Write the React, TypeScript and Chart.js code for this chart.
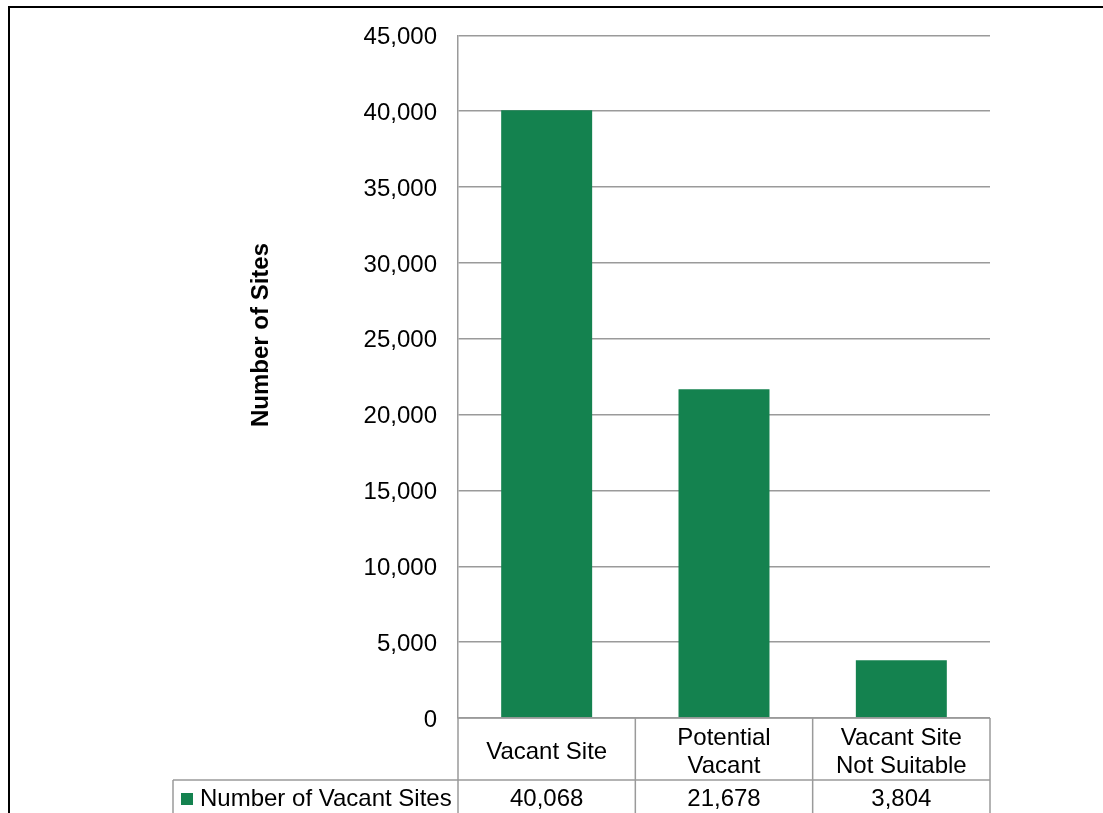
import React, { useEffect, useRef } from "react";
import { Chart, registerables } from "chart.js";

Chart.register(...registerables);

const categories: string[][] = [["Vacant Site"], ["Potential", "Vacant"], ["Vacant Site", "Not Suitable"]];
const values: number[] = [40068, 21678, 3804];
const valueLabels: string[] = ["40,068", "21,678", "3,804"];
const seriesName = "Number of Vacant Sites";
const yTicks: number[] = [0, 5000, 10000, 15000, 20000, 25000, 30000, 35000, 40000, 45000];
const yTitle = "Number of Sites";

const FAMILY = '"Liberation Sans", Arial, Helvetica, sans-serif';
const FONT_SIZE = 24;
const GRID = "#9a9a9a";
const GREEN = "#14824f";

const decorPlugin = {
  id: "decor",
  afterDraw(chart: any) {
    const ctx = chart.ctx as CanvasRenderingContext2D;
    const area = chart.chartArea;
    const x = chart.scales.x;
    const n = categories.length;
    const step = (area.right - area.left) / n;
    const bounds: number[] = [];
    for (let i = 0; i <= n; i++) bounds.push(x.getPixelForValue(0) - step / 2 + i * step);
    const top = area.bottom;
    const rowH = 62;
    const mid = top + rowH;
    const bottom = chart.height + 4;
    const legendLeft = 173;

    ctx.save();
    ctx.strokeStyle = GRID;
    ctx.lineWidth = 1.5;
    ctx.beginPath();
    for (const b of bounds) {
      ctx.moveTo(b, top);
      ctx.lineTo(b, bottom);
    }
    ctx.moveTo(legendLeft, mid);
    ctx.lineTo(bounds[n], mid);
    ctx.moveTo(legendLeft, mid);
    ctx.lineTo(legendLeft, bottom);
    ctx.moveTo(bounds[0], top);
    ctx.lineTo(bounds[n], top);
    ctx.stroke();

    ctx.fillStyle = "#000";
    ctx.font = `${FONT_SIZE}px ${FAMILY}`;
    ctx.textAlign = "center";
    ctx.textBaseline = "middle";
    const lineH = 28;
    categories.forEach((lines, i) => {
      const cx = (bounds[i] + bounds[i + 1]) / 2;
      const cy = top + rowH / 2 + 3;
      const start = cy - ((lines.length - 1) * lineH) / 2;
      lines.forEach((ln, j) => ctx.fillText(ln, cx, start + j * lineH));
      ctx.fillText(valueLabels[i], cx, mid + 19);
    });

    ctx.fillStyle = GREEN;
    ctx.fillRect(181, mid + 13, 12, 12);
    ctx.fillStyle = "#000";
    ctx.textAlign = "left";
    ctx.fillText(seriesName, 200, mid + 19);

    ctx.save();
    ctx.translate(261, 335);
    ctx.rotate(-Math.PI / 2);
    ctx.font = `bold 24px ${FAMILY}`;
    ctx.textAlign = "center";
    ctx.fillText(yTitle, 0, 0);
    ctx.restore();

    ctx.fillStyle = "#000";
    ctx.fillRect(8, 6, chart.width, 2);
    ctx.fillRect(8, 6, 2, chart.height);
    ctx.restore();
  },
};

export default function App() {
  const ref = useRef<HTMLCanvasElement>(null);
  useEffect(() => {
    if (!ref.current) return;
    const chart = new Chart(ref.current, {
      type: "bar",
      data: {
        labels: categories.map((c) => c.join(" ")),
        datasets: [
          {
            label: seriesName,
            data: values,
            backgroundColor: GREEN,
            barPercentage: 0.513,
            categoryPercentage: 1,
          },
        ],
      },
      options: {
        responsive: false,
        animation: false,
        layout: { padding: { top: 34, right: 113, bottom: 95, left: 0 } },
        plugins: { legend: { display: false }, tooltip: { enabled: false } },
        scales: {
          x: { display: false },
          y: {
            min: 0,
            max: 45000,
            afterBuildTicks: (s: any) => {
              s.ticks = yTicks.map((v) => ({ value: v }));
            },
            afterFit: (s: any) => {
              s.width = 458;
            },
            ticks: {
              padding: 21,
              labelOffset: 2,
              color: "#000",
              font: { size: FONT_SIZE, family: FAMILY },
              callback: (v: any) => Number(v).toLocaleString("en-US"),
            },
            grid: { color: GRID, lineWidth: 1.5, drawTicks: false },
            border: { display: true, color: GRID, width: 1.5 },
          },
        },
      },
      plugins: [decorPlugin],
    });
    return () => chart.destroy();
  }, []);
  return (
    <div style={{ position: "absolute", left: 0, top: 0, width: 1103, height: 813, background: "#fff" }}>
      <canvas ref={ref} width={1103} height={813} style={{ width: 1103, height: 813 }} />
    </div>
  );
}
